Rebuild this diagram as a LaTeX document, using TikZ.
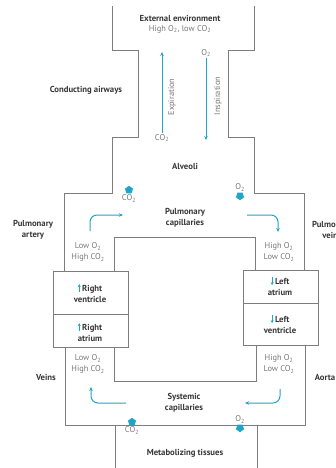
\documentclass[tikz,border=0pt]{standalone}
\usepackage{fontspec}
\setmainfont{PT Sans}
\usetikzlibrary{arrows.meta,shapes.geometric,positioning}
\definecolor{flow}{RGB}{30,165,200}
\definecolor{wallgray}{RGB}{125,125,125}
\definecolor{labeltext}{RGB}{55,55,55}
\definecolor{gastext}{RGB}{120,120,120}
\newcommand{\heartup}{\tikz[baseline=0pt]\draw[-{Stealth[length=3pt,width=3pt]},flow,line width=0.9pt] (0pt,-0.5pt) -- (0pt,7.5pt);\,}
\newcommand{\heartdown}{\tikz[baseline=0pt]\draw[-{Stealth[length=3pt,width=3pt]},flow,line width=0.9pt] (0pt,7.5pt) -- (0pt,-0.5pt);\,}

\begin{document}
\begin{tikzpicture}[x=1pt,y=-1pt,
    wall/.style={draw=wallgray,line width=0.9pt},
    region/.style={font=\fontsize{8.7}{10.5}\selectfont\bfseries,text=labeltext,align=center,inner sep=1pt},
    gas/.style={font=\fontsize{8.4}{11}\selectfont,text=gastext,align=center,inner sep=1pt},
    flowarrow/.style={-{Stealth[length=4pt,width=3.5pt]},draw=flow,line width=1pt},
    bendarrow/.style={flowarrow,rounded corners=7pt},
    exchup/.style={regular polygon,regular polygon sides=5,fill=flow,minimum size=8.5pt,inner sep=0pt},
    exchdown/.style={exchup,shape border rotate=180}]
    \clip (0,0) rectangle (335,468);

    % airways and alveoli
    \draw[wall] (112,6) -- (112,50) -- (138,50) -- (138,137) -- (112,137) -- (112,193) -- (64,193) -- (64,271);
    \draw[wall] (254,6) -- (254,50) -- (228,50) -- (228,137) -- (254,137) -- (254,193) -- (304,193) -- (304,270);
    \draw[wall] (114,271) -- (114,237) -- (255,237) -- (255,270);
    % heart
    \draw[wall] (53,271) rectangle (128,347);
    \draw[wall] (53,314) -- (128,314);
    \draw[wall] (243,270) rectangle (318,345);
    \draw[wall] (243,303) -- (318,303);
    % systemic loop and tissues
    \draw[wall] (65,347) -- (65,425) -- (305,425) -- (305,345);
    \draw[wall] (114,347) -- (114,381) -- (256,381) -- (256,345);
    \draw[wall] (115,425) -- (115,470);
    \draw[wall] (257,425) -- (257,470);

    \node[region] (ext) at (180,18) {External environment};
    \node[gas] (extgas) at (180,29) {High O\textsubscript{2}, low CO\textsubscript{2}};
    \node[region] (airways) at (86,90) {Conducting airways};
    \node[gas] (co2out) at (162,138) {CO\textsubscript{2}};
    \coordinate (exptop) at (162,52);
    \node[gas,rotate=90] (exp) at (172,97) {Expiration};
    \node[gas] (o2in) at (206,53) {O\textsubscript{2}};
    \coordinate (inspbot) at (206,140);
    \node[gas,rotate=90] (insp) at (218,96) {Inspiration};
    \draw[flowarrow] (co2out) -- (exptop);
    \draw[flowarrow] (o2in) -- (inspbot);
    \node[region] (alveoli) at (185,166) {Alveoli};

    % exchange in the lungs
    \node[exchup] (co2lung) at (129,190) {};
    \node[gas,below=0pt of co2lung] (co2lunglab) {CO\textsubscript{2}};
    \node[exchdown] (o2lung) at (240,196) {};
    \node[gas,above=0pt of o2lung] (o2lunglab) {O\textsubscript{2}};
    \node[region] (pulmcap) at (185,218) {Pulmonary\\capillaries};
    \node[region] (pulmart) at (33,230) {Pulmonary\\artery};
    \node[region] (pulmvein) at (332,230) {Pulmonary\\veins};
    \coordinate (pa1) at (90,231);
    \coordinate (pa2) at (123,215);
    \coordinate (pv1) at (247,215);
    \coordinate (pv2) at (278,232);
    \draw[bendarrow] (pa1) |- (pa2);
    \draw[bendarrow] (pv1) -| (pv2);
    \node[gas] (venpa) at (88,252) {Low O\textsubscript{2}\\High CO\textsubscript{2}};
    \node[gas] (artpv) at (279,252) {High O\textsubscript{2}\\Low CO\textsubscript{2}};

    % heart chambers
    \node[region] (rv) at (90,293) {\heartup Right\\ventricle};
    \node[region] (ra) at (90,332) {\heartup Right\\atrium};
    \node[region] (la) at (280,286) {\heartdown Left\\atrium};
    \node[region] (lv) at (280,324) {\heartdown Left\\ventricle};

    % systemic side
    \node[gas] (venveins) at (88,364) {Low O\textsubscript{2}\\High CO\textsubscript{2}};
    \node[gas] (artaorta) at (279,364) {High O\textsubscript{2}\\Low CO\textsubscript{2}};
    \node[region] (veins) at (46,377) {Veins};
    \node[region] (aorta) at (325,377) {Aorta};
    \node[region] (syscap) at (184,403) {Systemic\\capillaries};
    \coordinate (sv1) at (126,403);
    \coordinate (sv2) at (91,387);
    \coordinate (sa1) at (280,389);
    \coordinate (sa2) at (245,403);
    \draw[bendarrow] (sv1) -| (sv2);
    \draw[bendarrow] (sa1) |- (sa2);
    \node[exchup] (co2tis) at (132,422) {};
    \node[gas,below=0pt of co2tis] (co2tislab) {CO\textsubscript{2}};
    \node[exchdown] (o2tis) at (240,428) {};
    \node[gas,above=0pt of o2tis] (o2tislab) {O\textsubscript{2}};
    \node[region] (tissues) at (185,453) {Metabolizing tissues};
\end{tikzpicture}
\end{document}
